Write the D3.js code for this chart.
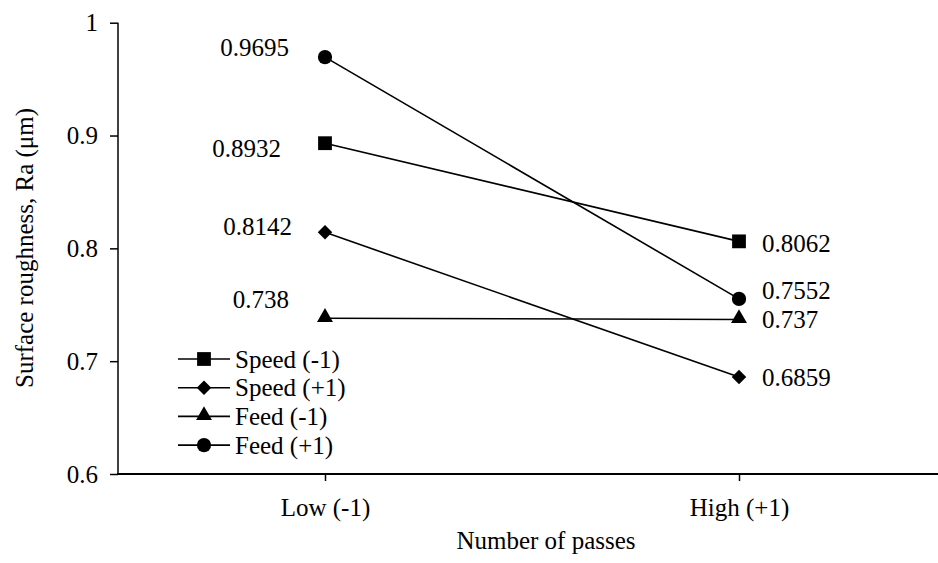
<!DOCTYPE html>
<html>
<head>
<meta charset="utf-8">
<script src="https://cdn.jsdelivr.net/npm/d3@7"></script>
<style>
  body { margin: 0; background: #fff; }
  text { font-family: "Liberation Serif", "DejaVu Serif", serif; fill: #000; }
</style>
</head>
<body>
<svg id="chart" width="938" height="563"></svg>
<script>
// data
var passes = ["Low (-1)", "High (+1)"];
var seriesNames = ["Speed (-1)", "Speed (+1)", "Feed (-1)", "Feed (+1)"];
var speedLow = [0.8932, 0.8062];
var speedHigh = [0.8142, 0.6859];
var feedLow = [0.738, 0.737];
var feedHigh = [0.9695, 0.7552];
var yTicks = [0.6, 0.7, 0.8, 0.9, 1];

var allSeries = [speedLow, speedHigh, feedLow, feedHigh];

// label nudges, picked by eye for each point
var labelDy = [[5, 2], [-6, 0], [-19, 0], [-10, -9]];
var labelDx = [[-44, 0], [-33, 0], [-36, 0], [-36, 0]];

var serif = "'Liberation Serif', 'DejaVu Serif', serif";
var svg = d3.select("#chart");

var xScale = d3.scalePoint()
  .domain(passes)
  .range([118, 946])
  .padding(0.5);

var yScale = d3.scaleLinear()
  .domain([0.6, 1])
  .range([474, 22.7]);

// y axis
var laxis = d3.axisLeft(yScale)
  .tickValues(yTicks)
  .tickSize(8)
  .tickFormat(function (d) { return String(d); });

var gy = svg.append("g")
  .attr("transform", "translate(118,0)")
  .call(laxis)
  .attr("font-family", serif);
gy.select(".domain").attr("stroke-width", 1.5).attr("d", "M0,22.7V474");
gy.selectAll(".tick line").attr("stroke-width", 1.5);
gy.selectAll(".tick text")
  .attr("x", -20)
  .style("font-size", "25px");

// x axis
var baxis = d3.axisBottom(xScale)
  .tickSize(7)
  .tickSizeOuter(0);

var gx = svg.append("g")
  .attr("transform", "translate(0,474)")
  .call(baxis)
  .attr("font-family", serif);
gx.select(".domain").attr("stroke-width", 2).attr("d", "M117,0H946");
gx.selectAll(".tick line").attr("stroke-width", 1.5);
gx.selectAll(".tick text")
  .attr("y", 24)
  .style("font-size", "25px");

// axis titles
svg.append("text")
  .attr("x", 546)
  .attr("y", 549)
  .attr("text-anchor", "middle")
  .style("font-size", "25px")
  .text("Number of passes");

svg.append("text")
  .attr("transform", "translate(33,248) rotate(-90)")
  .attr("text-anchor", "middle")
  .style("font-size", "25px")
  .text("Surface roughness, Ra (\u03bcm)");

// markers
var symbols = [
  d3.symbol().type(d3.symbolSquare).size(190),
  d3.symbol().type(d3.symbolSquare).size(105),
  d3.symbol().type(d3.symbolTriangle).size(110),
  d3.symbol().type(d3.symbolCircle).size(160)
];
var rotations = [0, 45, 0, 0];

var myLine = d3.line()
  .x(function (d, i) { return xScale(passes[i]); })
  .y(function (d) { return yScale(d); });

allSeries.forEach(function (vals, s) {
  svg.append("path")
    .attr("d", myLine(vals))
    .attr("fill", "none")
    .attr("stroke", "#000")
    .attr("stroke-width", 1.6);

  vals.forEach(function (v, i) {
    var tx = xScale(passes[i]), ty = yScale(v);
    if (s == 2) ty -= 1;
    svg.append("path")
      .attr("d", symbols[s]())
      .attr("transform", "translate(" + tx + "," + ty + ") rotate(" + rotations[s] + ")")
      .attr("fill", "#000");

    // value labels
    svg.append("text")
      .attr("x", i == 0 ? tx + labelDx[s][i] : tx + 23)
      .attr("y", yScale(v) + labelDy[s][i])
      .attr("dy", "0.35em")
      .attr("text-anchor", i == 0 ? "end" : "start")
      .style("font-size", "25px")
      .text(v);
  });
});

// legend
var legend = svg.append("g").attr("transform", "translate(178,359)");
seriesNames.forEach(function (name, s) {
  var row = legend.append("g").attr("transform", "translate(0," + (s * 28.7) + ")");
  row.append("line")
    .attr("x1", 0).attr("x2", 52)
    .attr("stroke", "#000")
    .attr("stroke-width", 1.6);
  row.append("path")
    .attr("d", symbols[s]())
    .attr("transform", "translate(26," + (s == 2 ? -1 : 0) + ") rotate(" + rotations[s] + ")")
    .attr("fill", "#000");
  row.append("text")
    .attr("x", 57)
    .attr("dy", "0.35em")
    .style("font-size", "25px")
    .text(name);
});
</script>
</body>
</html>
